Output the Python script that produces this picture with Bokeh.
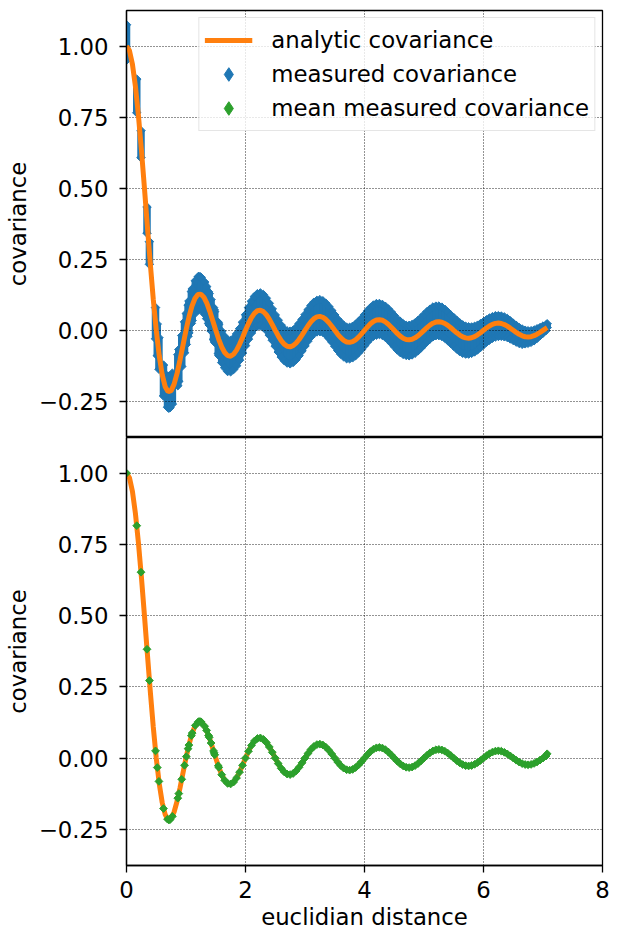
import numpy as np
from bokeh.plotting import figure
from bokeh.models import ColumnDataSource, Range1d, FixedTicker, Legend, LegendItem
from bokeh.layouts import column
from bokeh.embed import file_html
from bokeh.resources import INLINE

# ---------------- data ----------------
xtick_vals = [0, 2, 4, 6, 8]
ytick_vals = [-0.25, 0.0, 0.25, 0.5, 0.75, 1.0]
ytick_labels = ["\u22120.25", "0.00", "0.25", "0.50", "0.75", "1.00"]

# analytic covariance
ana_x = [
    0.00, 0.05, 0.10, 0.15, 0.20, 0.25, 0.30, 0.35, 0.40, 0.45,
    0.50, 0.55, 0.60, 0.65, 0.70, 0.75, 0.80, 0.85, 0.90, 0.95,
    1.00, 1.05, 1.10, 1.15, 1.20, 1.25, 1.30, 1.35, 1.40, 1.45,
    1.50, 1.55, 1.60, 1.65, 1.70, 1.75, 1.80, 1.85, 1.90, 1.95,
    2.00, 2.05, 2.10, 2.15, 2.20, 2.25, 2.30, 2.35, 2.40, 2.45,
    2.50, 2.55, 2.60, 2.65, 2.70, 2.75, 2.80, 2.85, 2.90, 2.95,
    3.00, 3.05, 3.10, 3.15, 3.20, 3.25, 3.30, 3.35, 3.40, 3.45,
    3.50, 3.55, 3.60, 3.65, 3.70, 3.75, 3.80, 3.85, 3.90, 3.95,
    4.00, 4.05, 4.10, 4.15, 4.20, 4.25, 4.30, 4.35, 4.40, 4.45,
    4.50, 4.55, 4.60, 4.65, 4.70, 4.75, 4.80, 4.85, 4.90, 4.95,
    5.00, 5.05, 5.10, 5.15, 5.20, 5.25, 5.30, 5.35, 5.40, 5.45,
    5.50, 5.55, 5.60, 5.65, 5.70, 5.75, 5.80, 5.85, 5.90, 5.95,
    6.00, 6.05, 6.10, 6.15, 6.20, 6.25, 6.30, 6.35, 6.40, 6.45,
    6.50, 6.55, 6.60, 6.65, 6.70, 6.75, 6.80, 6.85, 6.90, 6.95,
    7.00, 7.05, 7.07,
]
ana_y = [
    1.0000, 0.9836, 0.9355, 0.8584, 0.7568, 0.6366, 0.5046, 0.3679, 0.2339, 0.1093,
    0.0000, -0.0894, -0.1559, -0.1981, -0.2162, -0.2122, -0.1892, -0.1515, -0.1039, -0.0518,
    0.0000, 0.0468, 0.0850, 0.1120, 0.1261, 0.1273, 0.1164, 0.0954, 0.0668, 0.0339,
    0.0000, -0.0317, -0.0585, -0.0780, -0.0890, -0.0909, -0.0841, -0.0696, -0.0492, -0.0252,
    0.0000, 0.0240, 0.0445, 0.0599, 0.0688, 0.0707, 0.0658, 0.0548, 0.0390, 0.0201,
    0.0000, -0.0193, -0.0360, -0.0486, -0.0561, -0.0579, -0.0541, -0.0452, -0.0323, -0.0167,
    0.0000, 0.0161, 0.0302, 0.0409, 0.0473, 0.0490, 0.0459, 0.0384, 0.0275, 0.0143,
    0.0000, -0.0139, -0.0260, -0.0353, -0.0409, -0.0424, -0.0398, -0.0334, -0.0240, -0.0125,
    0.0000, 0.0121, 0.0228, 0.0310, 0.0360, 0.0374, 0.0352, 0.0296, 0.0213, 0.0111,
    0.0000, -0.0108, -0.0203, -0.0277, -0.0322, -0.0335, -0.0315, -0.0265, -0.0191, -0.0099,
    0.0000, 0.0097, 0.0183, 0.0250, 0.0291, 0.0303, 0.0286, 0.0241, 0.0173, 0.0090,
    0.0000, -0.0089, -0.0167, -0.0228, -0.0266, -0.0277, -0.0261, -0.0220, -0.0159, -0.0083,
    0.0000, 0.0081, 0.0153, 0.0209, 0.0244, 0.0255, 0.0240, 0.0203, 0.0146, 0.0076,
    0.0000, -0.0075, -0.0142, -0.0194, -0.0226, -0.0236, -0.0223, -0.0188, -0.0136, -0.0071,
    0.0000, 0.0070, 0.0096,
]

# measured distances (discrete near zero, dense further out)
dist_early = [
    0.0000, 0.1724, 0.2438, 0.3448, 0.3855, 0.4877, 0.5172, 0.5452, 0.6216, 0.6897,
    0.7109, 0.7315, 0.7711, 0.8621, 0.8791, 0.9285, 0.9753, 1.0053, 1.0345, 1.0487,
    1.0904, 1.1040, 1.1566, 1.2069, 1.2191, 1.2433, 1.2552, 1.3130, 1.3466, 1.3793,
    1.3900, 1.4218, 1.4630, 1.4731, 1.4831, 1.5421, 1.5517,
]
mean_early = [
    1.0000, 0.8155, 0.6523, 0.3818, 0.2720, 0.0252, -0.0332, -0.0818, -0.1771, -0.2144,
    -0.2172, -0.2161, -0.2046, -0.1407, -0.1247, -0.0745, -0.0252, 0.0053, 0.0331, 0.0457,
    0.0785, 0.0877, 0.1146, 0.1271, 0.1283, 0.1279, 0.1268, 0.1118, 0.0971, 0.0792,
    0.0730, 0.0528, 0.0250, 0.0182, 0.0114, -0.0270, -0.0327,
]
up_early = [
    0.075, 0.068, 0.050, 0.052, 0.040, 0.055, 0.055, 0.056, 0.055, 0.054,
    0.055, 0.056, 0.054, 0.055, 0.057, 0.056, 0.055, 0.054, 0.056, 0.057,
    0.058, 0.058, 0.060, 0.062, 0.061, 0.060, 0.059, 0.058, 0.057, 0.056,
    0.056, 0.055, 0.055, 0.054, 0.055, 0.055, 0.054,
]
dn_early = [
    0.050, 0.050, 0.045, 0.040, 0.040, 0.055, 0.056, 0.055, 0.054, 0.056,
    0.057, 0.056, 0.055, 0.054, 0.055, 0.053, 0.054, 0.055, 0.054, 0.055,
    0.054, 0.053, 0.054, 0.055, 0.054, 0.053, 0.054, 0.055, 0.056, 0.055,
    0.054, 0.055, 0.056, 0.055, 0.054, 0.055, 0.056,
]

dist_dense = [
    1.60, 1.65, 1.70, 1.75, 1.80, 1.85, 1.90, 1.95,
    2.00, 2.05, 2.10, 2.15, 2.20, 2.25, 2.30, 2.35, 2.40, 2.45,
    2.50, 2.55, 2.60, 2.65, 2.70, 2.75, 2.80, 2.85, 2.90, 2.95,
    3.00, 3.05, 3.10, 3.15, 3.20, 3.25, 3.30, 3.35, 3.40, 3.45,
    3.50, 3.55, 3.60, 3.65, 3.70, 3.75, 3.80, 3.85, 3.90, 3.95,
    4.00, 4.05, 4.10, 4.15, 4.20, 4.25, 4.30, 4.35, 4.40, 4.45,
    4.50, 4.55, 4.60, 4.65, 4.70, 4.75, 4.80, 4.85, 4.90, 4.95,
    5.00, 5.05, 5.10, 5.15, 5.20, 5.25, 5.30, 5.35, 5.40, 5.45,
    5.50, 5.55, 5.60, 5.65, 5.70, 5.75, 5.80, 5.85, 5.90, 5.95,
    6.00, 6.05, 6.10, 6.15, 6.20, 6.25, 6.30, 6.35, 6.40, 6.45,
    6.50, 6.55, 6.60, 6.65, 6.70, 6.75, 6.80, 6.85, 6.90, 6.95,
    7.00, 7.05, 7.07,
]
mean_dense = [
    -0.0585, -0.0780, -0.0890, -0.0909, -0.0841, -0.0696, -0.0492, -0.0252,
    0.0000, 0.0240, 0.0445, 0.0599, 0.0688, 0.0707, 0.0658, 0.0548, 0.0390, 0.0201,
    0.0000, -0.0193, -0.0360, -0.0486, -0.0561, -0.0579, -0.0541, -0.0452, -0.0323, -0.0167,
    0.0000, 0.0161, 0.0302, 0.0409, 0.0473, 0.0490, 0.0459, 0.0384, 0.0275, 0.0143,
    0.0000, -0.0139, -0.0260, -0.0353, -0.0409, -0.0424, -0.0398, -0.0334, -0.0240, -0.0125,
    0.0000, 0.0121, 0.0228, 0.0310, 0.0360, 0.0374, 0.0352, 0.0296, 0.0213, 0.0111,
    0.0000, -0.0108, -0.0203, -0.0277, -0.0322, -0.0335, -0.0315, -0.0265, -0.0191, -0.0099,
    0.0000, 0.0097, 0.0183, 0.0250, 0.0291, 0.0303, 0.0286, 0.0241, 0.0173, 0.0090,
    0.0000, -0.0089, -0.0167, -0.0228, -0.0266, -0.0277, -0.0261, -0.0220, -0.0159, -0.0083,
    0.0000, 0.0081, 0.0153, 0.0209, 0.0244, 0.0255, 0.0240, 0.0203, 0.0146, 0.0076,
    0.0000, -0.0075, -0.0142, -0.0194, -0.0226, -0.0236, -0.0223, -0.0188, -0.0136, -0.0071,
    0.0000, 0.0070, 0.0150,
]
up_dense = [
    0.055, 0.056, 0.054, 0.055, 0.056, 0.057, 0.055, 0.054,
    0.055, 0.056, 0.058, 0.059, 0.060, 0.061, 0.060, 0.058, 0.056, 0.055,
    0.054, 0.055, 0.054, 0.053, 0.054, 0.055, 0.054, 0.055, 0.056, 0.055,
    0.055, 0.056, 0.057, 0.058, 0.058, 0.059, 0.058, 0.057, 0.056, 0.055,
    0.054, 0.053, 0.054, 0.053, 0.052, 0.053, 0.054, 0.055, 0.055, 0.054,
    0.055, 0.056, 0.057, 0.058, 0.058, 0.057, 0.056, 0.055, 0.054, 0.053,
    0.052, 0.051, 0.052, 0.051, 0.050, 0.051, 0.052, 0.053, 0.054, 0.054,
    0.055, 0.056, 0.056, 0.057, 0.056, 0.055, 0.053, 0.050, 0.047, 0.045,
    0.045, 0.044, 0.043, 0.042, 0.041, 0.040, 0.038, 0.036, 0.034, 0.032,
    0.030, 0.029, 0.028, 0.027, 0.027, 0.026, 0.026, 0.027, 0.027, 0.026,
    0.025, 0.025, 0.024, 0.024, 0.023, 0.022, 0.021, 0.020, 0.019, 0.017,
    0.015, 0.012, 0.008,
]
dn_dense = [
    0.055, 0.054, 0.056, 0.055, 0.054, 0.055, 0.056, 0.055,
    0.054, 0.055, 0.054, 0.053, 0.054, 0.055, 0.054, 0.055, 0.056, 0.055,
    0.056, 0.057, 0.058, 0.058, 0.059, 0.060, 0.059, 0.058, 0.057, 0.056,
    0.055, 0.054, 0.053, 0.052, 0.053, 0.054, 0.053, 0.054, 0.055, 0.055,
    0.056, 0.057, 0.058, 0.058, 0.059, 0.058, 0.057, 0.056, 0.055, 0.055,
    0.054, 0.053, 0.052, 0.052, 0.053, 0.052, 0.053, 0.054, 0.055, 0.056,
    0.057, 0.058, 0.058, 0.057, 0.056, 0.056, 0.055, 0.054, 0.053, 0.052,
    0.051, 0.050, 0.049, 0.048, 0.048, 0.049, 0.050, 0.052, 0.054, 0.055,
    0.056, 0.057, 0.058, 0.058, 0.057, 0.056, 0.055, 0.054, 0.053, 0.052,
    0.051, 0.050, 0.050, 0.049, 0.048, 0.047, 0.045, 0.043, 0.040, 0.038,
    0.036, 0.034, 0.032, 0.030, 0.025, 0.022, 0.020, 0.018, 0.015, 0.012,
    0.010, 0.008, 0.005,
]

# ---------------- styling ----------------
BLUE = "#1f77b4"
ORANGE = "#ff7f0e"
GREEN = "#2ca02c"
FONT = "DejaVu Sans"
FS = "22.8px"

dist = dist_early + dist_dense
mean_cov = mean_early + mean_dense
lo = [m - d for m, d in zip(mean_cov, dn_early + dn_dense)]
hi = [m + u for m, u in zip(mean_cov, up_early + up_dense)]
src = ColumnDataSource(dict(x=dist, m=mean_cov, lo=lo, hi=hi))
ana_src = ColumnDataSource(dict(x=ana_x, y=ana_y))

x_range = Range1d(0, 8)


def make_fig(height, border_top, border_bottom):
    p = figure(width=623, height=height, x_range=x_range,
               y_range=Range1d(-0.377, 1.125),
               output_backend="svg", toolbar_location=None, tools="",
               min_border_left=126, min_border_right=21,
               min_border_top=border_top, min_border_bottom=border_bottom)
    p.outline_line_color = "black"
    p.outline_line_width = 1.3
    p.outline_line_alpha = 1.0
    p.background_fill_color = "white"
    p.border_fill_color = "white"

    xt = FixedTicker(ticks=xtick_vals)
    yt = FixedTicker(ticks=ytick_vals)
    p.xaxis.ticker = xt
    p.xgrid.ticker = xt
    p.yaxis.ticker = yt
    p.ygrid.ticker = yt
    for g in (p.xgrid, p.ygrid):
        g.grid_line_color = "black"
        g.grid_line_alpha = 0.85
        g.grid_line_width = 1.0
        g.grid_line_dash = "1 2"

    for ax in (p.xaxis[0], p.yaxis[0]):
        ax.major_label_text_font = FONT
        ax.major_label_text_font_size = FS
        ax.major_label_text_color = "black"
        ax.axis_label_text_font = FONT
        ax.axis_label_text_font_size = FS
        ax.axis_label_text_font_style = "normal"
        ax.axis_label_text_color = "black"
        ax.major_tick_out = 7
        ax.major_tick_in = 0
        ax.minor_tick_out = 0
        ax.minor_tick_in = 0
        ax.major_tick_line_width = 1.3
        ax.major_tick_line_color = "black"
        ax.axis_line_width = 1.3
        ax.axis_line_color = "black"

    yax = p.yaxis[0]
    yax.major_label_overrides = dict(zip(ytick_vals, ytick_labels))
    yax.axis_label = "covariance"
    yax.major_label_standoff = 11
    yax.axis_label_standoff = 5
    return p


# ---------------- top panel ----------------
p1 = make_fig(437, 10, 0)
p1.xaxis.visible = False

p1.segment(x0="x", y0="lo", x1="x", y1="hi", source=src,
           line_color=BLUE, line_width=7.5, level="image")
p1.scatter(x="x", y="lo", source=src, marker="square", angle=np.pi / 4,
           size=6, fill_color=BLUE, line_color=BLUE, level="image")
p1.scatter(x="x", y="hi", source=src, marker="square", angle=np.pi / 4,
           size=6, fill_color=BLUE, line_color=BLUE, level="image")
line1 = p1.line(x="x", y="y", source=ana_src, line_color=ORANGE, line_width=5)

# hidden renderers used only as legend symbols (diamond shape)
blue_proxy = p1.scatter(x="x", y="hi", source=src, marker="diamond",
                        fill_color=BLUE, line_color=BLUE, visible=False)
green_proxy = p1.scatter(x="x", y="m", source=src, marker="diamond",
                         fill_color=GREEN, line_color=GREEN, visible=False)

legend = Legend(items=[
    LegendItem(label="analytic covariance", renderers=[line1]),
    LegendItem(label="measured covariance", renderers=[blue_proxy]),
    LegendItem(label="mean measured covariance", renderers=[green_proxy]),
], location="top_right")
legend.margin = 7
legend.padding = 5
legend.spacing = 0
legend.glyph_width = 48
legend.glyph_height = 34
legend.label_height = 34
legend.label_standoff = 19
legend.label_text_font = FONT
legend.label_text_font_size = FS
legend.label_text_color = "black"
legend.border_line_color = "#cccccc"
legend.border_line_width = 1.3
legend.background_fill_color = "white"
legend.background_fill_alpha = 0.8
p1.add_layout(legend)

# ---------------- bottom panel ----------------
p2 = make_fig(496, 0, 68)
p2.xaxis[0].axis_label = "euclidian distance"
p2.xaxis[0].major_label_standoff = 8
p2.xaxis[0].axis_label_standoff = 3
p2.line(x="x", y="y", source=ana_src, line_color=ORANGE, line_width=5)
p2.scatter(x="x", y="m", source=src, marker="square", angle=np.pi / 4,
           size=5.5, fill_color=GREEN, line_color=GREEN)

layout = column(p1, p2)
open("out.html", "w").write(file_html(layout, INLINE))
